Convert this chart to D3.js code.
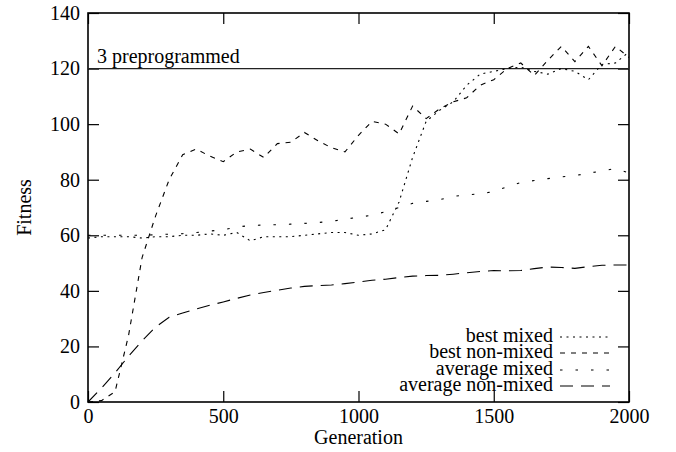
<!DOCTYPE html>
<html>
<head>
<meta charset="utf-8">
<script src="https://cdn.jsdelivr.net/npm/d3@7"></script>
<style>
  body { margin: 0; background: #fff; }
  text { font-family: "Liberation Serif", "Times New Roman", serif; font-size: 20px; fill: #000; }
</style>
</head>
<body>
<div id="chart"></div>
<script>
// data, one point every 50 generations
var generations = d3.range(0, 2001, 50);
var bestMixed = [59, 59.5, 59.5, 59.5, 59, 59.5, 59.5, 60, 60, 60.5, 60, 61, 58, 59.5, 59.5, 59.5, 60, 60.5, 61, 61,
  60, 60.5, 62, 72, 88, 101, 105, 108, 114, 118, 119, 120, 120.5, 119, 118, 120, 119, 116, 121.5, 122, 126];
var bestNonMixed = [0, 0.5, 3.7, 24, 52, 67, 80, 89, 91, 88.5, 86.5, 90, 91, 88, 93, 93.5, 97, 94, 91.5, 90,
  96, 101, 100, 96.5, 106.5, 102, 105.5, 108, 109.5, 114, 116, 120, 122, 117.5, 123, 128, 122.5, 128, 121, 128, 124];
var avgMixed = [60, 60, 60, 60, 60, 60.2, 60.4, 60.6, 61, 61.5, 62, 63, 63.5, 63.7, 63.8, 64, 64.3, 64.6, 65, 65.8,
  66.5, 67.2, 68.5, 70, 71.5, 72.2, 72.8, 74, 74.5, 75, 75.7, 77.5, 79, 79.7, 80.4, 81, 81.5, 82.3, 83.2, 84, 82.4];
var avgNonMixed = [0, 5, 10.5, 16.5, 22, 27, 30.5, 32, 33.5, 34.8, 36, 37.3, 38.5, 39.4, 40.2, 41, 41.6, 41.9, 42.1, 42.6,
  43.2, 43.8, 44.2, 44.8, 45.3, 45.5, 45.6, 46, 46.5, 47, 47.3, 47.2, 47.3, 48, 48.6, 48.4, 48.1, 48.7, 49.2, 49.3, 49.3];
var seriesNames = ["best mixed", "best non-mixed", "average mixed", "average non-mixed"];
var xTicks = [0, 500, 1000, 1500, 2000];
var yTicks = [0, 20, 40, 60, 80, 100, 120, 140];
var preprogrammed = 120;

var width = 676, height = 452;
var plotLeft = 88, plotRight = 629, plotTop = 13, plotBottom = 402;

var svg = d3.select("#chart").append("svg")
    .attr("width", width)
    .attr("height", height);

var x = d3.scaleLinear().domain([0, 2000]).range([plotLeft, plotRight]);
var y = d3.scaleLinear().domain([0, 140]).range([plotBottom, plotTop]);

// axes, ticks pointing inwards on all four sides
svg.append("g")
    .attr("transform", "translate(0," + plotBottom + ")")
    .call(d3.axisBottom(x).tickValues(xTicks).tickFormat(d3.format("d"))
      .tickSizeInner(-11).tickSizeOuter(0).tickPadding(7));
svg.append("g")
    .attr("transform", "translate(0," + plotTop + ")")
    .call(d3.axisTop(x).tickValues(xTicks).tickSizeInner(-11).tickSizeOuter(0).tickFormat(""));
svg.append("g")
    .attr("transform", "translate(" + plotLeft + ",0)")
    .call(d3.axisLeft(y).tickValues(yTicks).tickSizeInner(-11).tickSizeOuter(0).tickPadding(8));
svg.append("g")
    .attr("transform", "translate(" + plotRight + ",0)")
    .call(d3.axisRight(y).tickValues(yTicks).tickSizeInner(-11).tickSizeOuter(0).tickFormat(""));

svg.selectAll(".domain").remove();
svg.selectAll(".tick line").attr("stroke", "#000").attr("stroke-width", 1.2);
svg.selectAll(".tick text").style("font-size", "20px").style("font-family", "Liberation Serif");

// frame
svg.append("rect")
    .attr("x", plotLeft).attr("y", plotTop)
    .attr("width", plotRight - plotLeft).attr("height", plotBottom - plotTop)
    .attr("fill", "none").attr("stroke", "#000").attr("stroke-width", 1.6);

// reference line
svg.append("line")
    .attr("x1", plotLeft).attr("x2", plotRight)
    .attr("y1", y(preprogrammed)).attr("y2", y(preprogrammed))
    .attr("stroke", "#222").attr("stroke-width", 1.2);
svg.append("text")
    .attr("x", plotLeft + 9).attr("y", y(preprogrammed) - 6)
    .text("3 preprogrammed");

// axis titles
svg.append("text")
    .attr("x", (plotLeft + plotRight) / 2).attr("y", 444)
    .attr("text-anchor", "middle")
    .text("Generation");
svg.append("text")
    .attr("transform", "translate(31," + (plotTop + plotBottom) / 2 + ") rotate(-90)")
    .attr("text-anchor", "middle")
    .text("Fitness");

// lines
var allSeries = [bestMixed, bestNonMixed, avgMixed, avgNonMixed];
var dashes = ["2,4.5", "5,6", "2.5,13", "13,8"];

var line = d3.line()
    .x(function(d, i) { return x(generations[i]); })
    .y(function(d) { return y(d); });

allSeries.forEach(function(s, k) {
  svg.append("path")
      .datum(s)
      .attr("d", line)
      .attr("fill", "none")
      .attr("stroke", "#000")
      .attr("stroke-width", 1.1)
      .attr("stroke-dasharray", dashes[k]);
});

// legend
var legendY = [342, 358, 375, 391];
seriesNames.forEach(function(name, k) {
  svg.append("text")
      .attr("x", 553).attr("y", legendY[k])
      .attr("text-anchor", "end")
      .text(name);
  svg.append("line")
      .attr("x1", 560).attr("x2", 610)
      .attr("y1", legendY[k] - 5).attr("y2", legendY[k] - 5)
      .attr("stroke", "#000")
      .attr("stroke-width", 1.1)
      .attr("stroke-dasharray", dashes[k]);
});
</script>
</body>
</html>
